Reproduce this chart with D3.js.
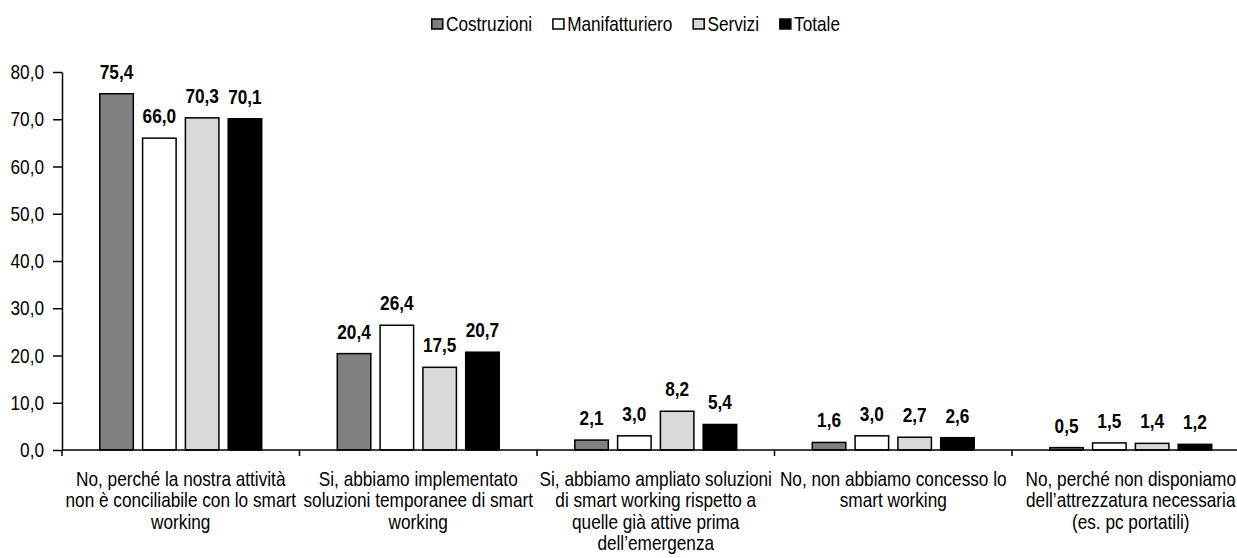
<!DOCTYPE html>
<html>
<head>
<meta charset="utf-8">
<script src="https://cdn.jsdelivr.net/npm/d3@7"></script>
<style>
  html, body { margin: 0; padding: 0; background: #fff; overflow: hidden; }
  svg { display: block; }
  text { font-family: "Liberation Sans", Arial, sans-serif; fill: #000; }
</style>
</head>
<body>
<svg id="chart" width="1237" height="558"></svg>
<script>
// Risposte (righe delle etichette di categoria)
const categories = [
  ["No, perché la nostra attività", "non è conciliabile con lo smart", "working"],
  ["Si, abbiamo implementato", "soluzioni temporanee di smart", "working"],
  ["Si, abbiamo ampliato soluzioni", "di smart working rispetto a", "quelle già attive prima", "dell’emergenza"],
  ["No, non abbiamo concesso lo", "smart working"],
  ["No, perché non disponiamo", "dell’attrezzatura necessaria", "(es. pc portatili)"]
];

const seriesNames = ["Costruzioni", "Manifatturiero", "Servizi", "Totale"];
const seriesColors = ["#808080", "#ffffff", "#d9d9d9", "#000000"];

// Valori percentuali per settore
const costruzioni    = [75.4, 20.4, 2.1, 1.6, 0.5];
const manifatturiero = [66.0, 26.4, 3.0, 3.0, 1.5];
const servizi        = [70.3, 17.5, 8.2, 2.7, 1.4];
const totale         = [70.1, 20.7, 5.4, 2.6, 1.2];

const yTicks = [0, 10, 20, 30, 40, 50, 60, 70, 80];

const seriesValues = [costruzioni, manifatturiero, servizi, totale];

const svg = d3.select("#chart");

const plotLeft = 62, plotTop = 72, plotBottom = 450;
const bandW = 237.5;
const FS = 21;          // font size in px
const NARROW = 0.82;    // horizontal squeeze for a narrow sans look

const fmt = v => d3.format(".1f")(v).replace(".", ",");

// squeeze a text horizontally around its own anchor point
function narrow(sel) {
  sel.each(function () {
    const t = d3.select(this);
    const x = +t.attr("x") || 0;
    t.attr("x", x / NARROW).attr("transform", `scale(${NARROW},1)`);
    t.selectAll("tspan").each(function () {
      const ts = d3.select(this);
      if (ts.attr("x") != null) ts.attr("x", +ts.attr("x") / NARROW);
    });
  });
}

const catIdx = d3.range(categories.length);
const x0 = d3.scaleBand().domain(catIdx).range([plotLeft, plotLeft + bandW * categories.length]).padding(0);
const x1 = d3.scaleBand().domain(d3.range(seriesNames.length)).range([0, x0.bandwidth()])
  .paddingInner(0.217).paddingOuter(0.883);
const y = d3.scaleLinear().domain([0, 80]).range([plotBottom, plotTop]);

// Barre
const groups = svg.append("g").selectAll("g")
  .data(catIdx).join("g")
  .attr("transform", i => `translate(${x0(i)},0)`);

groups.selectAll("rect")
  .data(i => seriesValues.map((vals, s) => ({ s, v: vals[i] })))
  .join("rect")
  .attr("x", d => x1(d.s))
  .attr("y", d => y(d.v))
  .attr("width", x1.bandwidth())
  .attr("height", d => y(0) - y(d.v))
  .attr("fill", d => seriesColors[d.s])
  .attr("stroke", "#000")
  .attr("stroke-width", 1.5);

// Etichette dei valori
groups.selectAll("text.val")
  .data(i => seriesValues.map((vals, s) => ({ s, v: vals[i] })))
  .join("text")
  .attr("class", "val")
  .attr("x", d => x1(d.s) + x1.bandwidth() / 2)
  .attr("y", d => y(d.v) - 15)
  .attr("text-anchor", "middle")
  .attr("font-size", FS + "px")
  .attr("font-weight", "bold")
  .text(d => fmt(d.v))
  .call(narrow);

// Asse Y
const yAxis = svg.append("g")
  .attr("transform", `translate(${plotLeft},0)`)
  .call(d3.axisLeft(y).tickValues(yTicks).tickFormat(fmt).tickSize(9).tickPadding(9).tickSizeOuter(0));
yAxis.select(".domain").attr("stroke", "#000").attr("stroke-width", 1.5);
yAxis.selectAll(".tick line").attr("stroke", "#000").attr("stroke-width", 1.5);
yAxis.selectAll(".tick text")
  .attr("font-size", FS + "px").attr("font-family", null)
  .call(narrow);

// Asse X
const boundaries = d3.range(categories.length + 1).map(i => plotLeft + i * bandW);
const xAxisG = svg.append("g");
xAxisG.append("line")
  .attr("x1", plotLeft).attr("x2", plotLeft + bandW * categories.length)
  .attr("y1", y(0)).attr("y2", y(0))
  .attr("stroke", "#000").attr("stroke-width", 1.5);
xAxisG.selectAll("line.tk")
  .data(boundaries).join("line")
  .attr("class", "tk")
  .attr("x1", d => d).attr("x2", d => d)
  .attr("y1", y(0)).attr("y2", y(0) + 6)
  .attr("stroke", "#000").attr("stroke-width", 1.5);

// Etichette delle categorie
const catLabels = svg.append("g").selectAll("text")
  .data(catIdx).join("text")
  .attr("x", i => x0(i) + x0.bandwidth() / 2)
  .attr("y", 486)
  .attr("text-anchor", "middle")
  .attr("font-size", FS + "px");
catLabels.selectAll("tspan")
  .data(i => categories[i].map((line, k) => ({ line, k, i })))
  .join("tspan")
  .attr("x", d => x0(d.i) + x0.bandwidth() / 2)
  .attr("dy", d => d.k === 0 ? 0 : 21.3)
  .text(d => d.line);
catLabels.call(narrow);

// Legenda
const legend = svg.append("g").attr("transform", "translate(431,0)");
let lx = 0;
seriesNames.forEach((name, s) => {
  const g = legend.append("g").attr("transform", `translate(${lx},0)`);
  g.append("rect")
    .attr("x", 0.75).attr("y", 19)
    .attr("width", 11).attr("height", 10)
    .attr("fill", seriesColors[s])
    .attr("stroke", "#000").attr("stroke-width", 1.5);
  const t = g.append("text")
    .attr("x", 15).attr("y", 31)
    .attr("font-size", FS + "px")
    .text(name);
  const w = t.node().getComputedTextLength() * NARROW;
  t.call(narrow);
  lx += 15 + w + 20;
});
</script>
</body>
</html>
